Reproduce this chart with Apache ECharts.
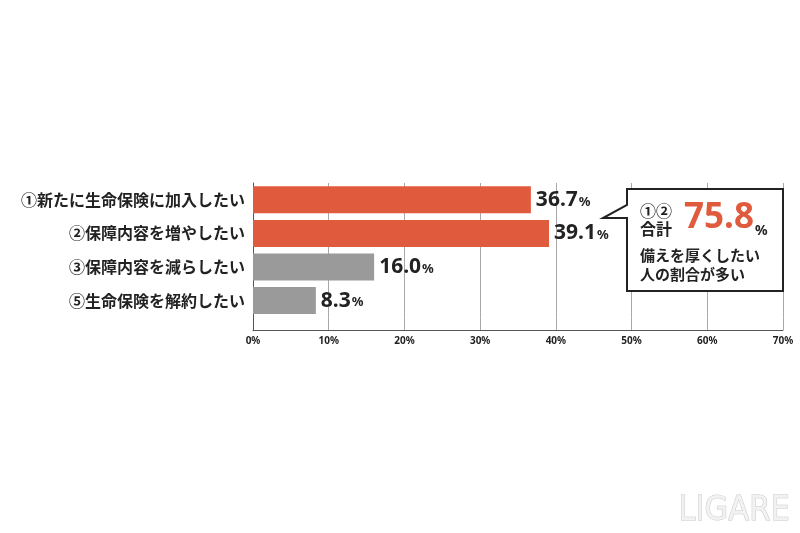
<!DOCTYPE html>
<html>
<head>
<meta charset="utf-8">
<script src="https://cdn.jsdelivr.net/npm/echarts@6/dist/echarts.min.js"></script>
<style>html,body{margin:0;padding:0;background:#fff;}#c{width:800px;height:533px;}</style>
</head>
<body>
<div id="c"></div>
<script>
const categories = ['①新たに生命保険に加入したい', '②保障内容を増やしたい', '③保障内容を減らしたい', '⑤生命保険を解約したい'];
const values = [36.7, 39.1, 16.0, 8.3];
const xTicks = [0, 10, 20, 30, 40, 50, 60, 70];
const highlighted = [0, 1];
const calloutLines = ['備えを厚くしたい', '人の割合が多い'];

const total = (values[0] + values[1]).toFixed(1);
const RED = '#e05a3e', GRAY = '#9a9a9a';
const CJK = '"Noto Sans CJK JP", "Noto Sans", sans-serif';
const NUM = '"Noto Sans", "Noto Sans CJK JP", sans-serif';

const chart = echarts.init(document.getElementById('c'), null, {renderer: 'canvas'});
const L = 253, R = 17, T = 183, H1 = 134.4, B = 330;
const splitLine = {show: true, lineStyle: {color: '#a8a8a8', width: 1}};
const xBase = {type: 'value', min: xTicks[0], max: xTicks[xTicks.length - 1], interval: xTicks[1] - xTicks[0]};

chart.setOption({
  animation: false,
  backgroundColor: '#fff',
  grid: [
    {left: L, right: R, top: T, height: H1},
    {left: L, right: R, top: T + H1, height: B - T - H1}
  ],
  xAxis: [
    Object.assign({}, xBase, {gridIndex: 0, axisLine: {show: false}, axisTick: {show: false}, axisLabel: {show: false}, splitLine: splitLine}),
    Object.assign({}, xBase, {gridIndex: 1, axisLine: {show: true, lineStyle: {color: '#555', width: 1}}, axisTick: {show: false},
      splitLine: splitLine,
      axisLabel: {show: true, formatter: '{value}%', fontSize: 10, fontWeight: 'bold', color: '#222', fontFamily: NUM, margin: 6}})
  ],
  yAxis: [
    {type: 'category', gridIndex: 0, data: categories, inverse: true,
     axisLine: {show: true, lineStyle: {color: '#555', width: 1}}, axisTick: {show: false},
     axisLabel: {fontSize: 16, fontWeight: 'bold', color: '#222', fontFamily: CJK, margin: 8}},
    {type: 'category', gridIndex: 1, data: [''],
     axisLine: {show: true, lineStyle: {color: '#555', width: 1}}, axisTick: {show: false}, axisLabel: {show: false}}
  ],
  series: [{
    type: 'bar', xAxisIndex: 0, yAxisIndex: 0, data: values, barWidth: 27,
    itemStyle: {color: p => highlighted.includes(p.dataIndex) ? RED : GRAY},
    label: {show: true, position: 'right', distance: 5,
      formatter: p => '{v|' + p.value.toFixed(1) + '}{p|%}',
      rich: {
        v: {fontSize: 21, fontWeight: 'bold', color: '#222', fontFamily: NUM},
        p: {fontSize: 13, fontWeight: 'bold', color: '#222', fontFamily: NUM, padding: [4, 0, 0, 1]}
      }}
  }],
  graphic: [
    {type: 'polygon', z: 100, shape: {points: [[627,205],[627,189],[783,189],[783,291],[627,291],[627,218],[603,218]]},
     style: {fill: '#fff', stroke: '#222', lineWidth: 2}},
    {type: 'text', z: 101, left: 640, top: 203, style: {text: '①②', font: 'bold 16px ' + CJK, fill: '#222'}},
    {type: 'text', z: 101, left: 640, top: 221, style: {text: '合計', font: 'bold 16px ' + CJK, fill: '#222'}},
    {type: 'text', z: 101, left: 684, top: 201, style: {text: total, font: 'bold 35px ' + NUM, fill: RED}},
    {type: 'text', z: 101, left: 755, top: 224, style: {text: '%', font: 'bold 14px ' + NUM, fill: '#222'}},
    {type: 'text', z: 101, left: 640, top: 248, style: {text: calloutLines[0], font: 'bold 15px ' + CJK, fill: '#222'}},
    {type: 'text', z: 101, left: 640, top: 267, style: {text: calloutLines[1], font: 'bold 15px ' + CJK, fill: '#222'}},
    {type: 'text', z: 101, left: 678, top: 494, style: {text: 'LIGARE', font: '34px "DejaVu Sans Condensed", "Liberation Sans Narrow", sans-serif', fill: '#f2f2f2', stroke: '#c8c8c8', lineWidth: 1}}
  ]
});
</script>
</body>
</html>
